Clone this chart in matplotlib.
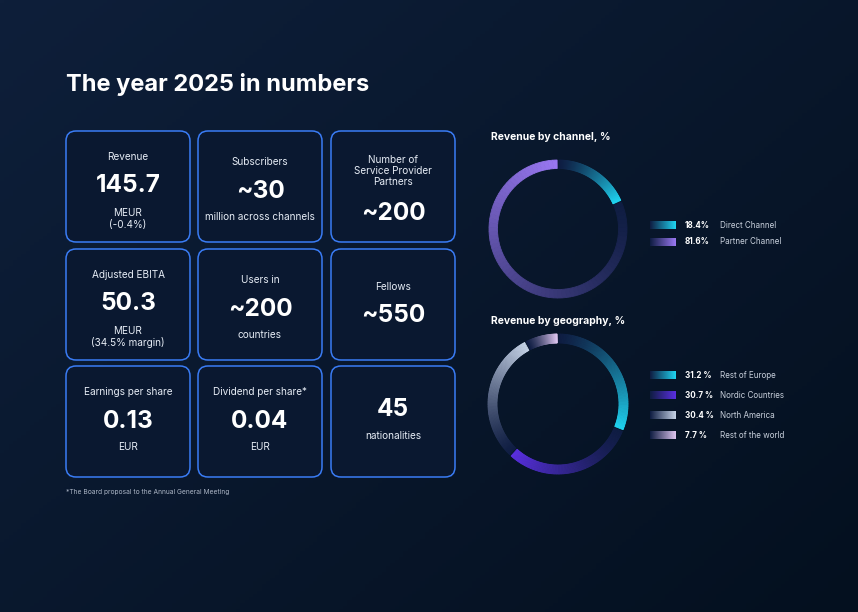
import matplotlib
matplotlib.use("Agg")
import matplotlib.pyplot as plt
import numpy as np
from matplotlib.patches import FancyBboxPatch, Polygon
from matplotlib.colors import to_rgb

plt.rcParams['font.family'] = ['Inter', 'DejaVu Sans']

title = "The year 2025 in numbers"
footnote = "*The Board proposal to the Annual General Meeting"

# KPI tiles: (header, big number, footer), row by row
kpi_headers = ["Revenue", "Subscribers", "Number of\nService Provider\nPartners",
               "Adjusted EBITA", "Users in", "Fellows",
               "Earnings per share", "Dividend per share*", ""]
kpi_values = ["145.7", "~30", "~200", "50.3", "~200", "~550", "0.13", "0.04", "45"]
kpi_footers = ["MEUR\n(-0.4%)", "million across channels", "",
               "MEUR\n(34.5% margin)", "countries", "",
               "EUR", "EUR", "nationalities"]

channel_labels = ["Direct Channel", "Partner Channel"]
channel_values = [18.4, 81.6]
channel_colors = ["#1fd3f0", "#9a78f2"]

geo_labels = ["Rest of Europe", "Nordic Countries", "North America", "Rest of the world"]
geo_values = [31.2, 30.7, 30.4, 7.7]
geo_colors = ["#1fd3f0", "#5a2fe0", "#c5d2e6", "#dcc4ee"]

W, H = 858, 612
fig = plt.figure(figsize=(W / 100, H / 100), dpi=100)
ax = fig.add_axes([0, 0, 1, 1])
ax.set_xlim(0, W)
ax.set_ylim(H, 0)
ax.axis("off")

# background gradient
gx = np.linspace(0, 1, 200)
gy = np.linspace(0, 1, 200)
GX, GY = np.meshgrid(gx, gy)
t = np.clip(0.55 * GX + 0.45 * GY, 0, 1)
c0 = np.array(to_rgb("#0e1f3a"))
c1 = np.array(to_rgb("#04101f"))
bg = c0[None, None, :] * (1 - t[..., None]) + c1[None, None, :] * t[..., None]
ax.imshow(bg, extent=[0, W, H, 0], aspect="auto", zorder=0)

ax.text(66, 84, title, color="white", fontsize=17, fontweight="bold", va="center")

BIG = 17.5
SMALL = 7.2
# tiles
col_x = [66, 198, 331]
row_y = [131, 249, 366]
tw, th = 124, 111
for i in range(9):
    x = col_x[i % 3]
    y = row_y[i // 3]
    box = FancyBboxPatch((x, y), tw, th, boxstyle="round,pad=0,rounding_size=10",
                         facecolor="#0a1830", edgecolor="#3a7cf5", linewidth=1.1, zorder=2)
    ax.add_patch(box)
    cx = x + tw / 2
    hdr, val, ftr = kpi_headers[i], kpi_values[i], kpi_footers[i]
    if i == 2:
        ax.text(cx, y + 40, hdr, color="#e6ecf5", fontsize=SMALL, ha="center", va="center", linespacing=1.1, zorder=3)
        ax.text(cx, y + 83, val, color="white", fontsize=BIG, fontweight="bold", ha="center", va="center", zorder=3)
    elif i == 5:
        ax.text(cx, y + 38, hdr, color="#e6ecf5", fontsize=SMALL, ha="center", va="center", zorder=3)
        ax.text(cx, y + 67, val, color="white", fontsize=BIG, fontweight="bold", ha="center", va="center", zorder=3)
    elif i == 8:
        ax.text(cx, y + 44, val, color="white", fontsize=BIG, fontweight="bold", ha="center", va="center", zorder=3)
        ax.text(cx, y + 70, ftr, color="#e6ecf5", fontsize=SMALL, ha="center", va="center", zorder=3)
    elif i in (1, 4):
        ax.text(cx, y + 31, hdr, color="#e6ecf5", fontsize=SMALL, ha="center", va="center", zorder=3)
        ax.text(cx, y + 60, val, color="white", fontsize=BIG, fontweight="bold", ha="center", va="center", zorder=3)
        ax.text(cx, y + 86, ftr, color="#e6ecf5", fontsize=SMALL, ha="center", va="center", zorder=3)
    elif i in (6, 7):
        ax.text(cx, y + 26, hdr, color="#e6ecf5", fontsize=SMALL, ha="center", va="center", zorder=3)
        ax.text(cx, y + 55, val, color="white", fontsize=BIG, fontweight="bold", ha="center", va="center", zorder=3)
        ax.text(cx, y + 81, ftr, color="#e6ecf5", fontsize=SMALL, ha="center", va="center", zorder=3)
    else:
        ax.text(cx, y + 26, hdr, color="#e6ecf5", fontsize=SMALL, ha="center", va="center", zorder=3)
        ax.text(cx, y + 55, val, color="white", fontsize=BIG, fontweight="bold", ha="center", va="center", zorder=3)
        ax.text(cx, y + 88, ftr, color="#e6ecf5", fontsize=SMALL, ha="center", va="center", linespacing=1.2, zorder=3)

ax.text(66, 492, footnote, color="#aab4c4", fontsize=4.8, va="center")

dark = np.array(to_rgb("#0f1d42"))


def donut(cx, cy, r, width, values, colors, gap=1.5, n=80):
    start = 0.0
    for v, col in zip(values, colors):
        span = 360 * v / 100
        a0 = start + gap / 2
        a1 = start + span - gap / 2
        edges = np.linspace(a0, a1, n + 1)
        end = np.array(to_rgb(col))
        for k in range(n):
            f = (k + 0.5) / n
            c = dark * (1 - f ** 1.3) + end * f ** 1.3
            angs = np.radians(np.linspace(edges[k], edges[k + 1], 4))
            outer = [(cx + r * np.sin(a), cy - r * np.cos(a)) for a in angs]
            inner = [(cx + (r - width) * np.sin(a), cy - (r - width) * np.cos(a)) for a in angs[::-1]]
            ax.add_patch(Polygon(outer + inner, closed=True, facecolor=c, edgecolor=c,
                                 linewidth=0.6, zorder=3))
        start += span


def legend(x, y0, dy, values, labels, colors, suffix):
    for j, (v, lab, col) in enumerate(zip(values, labels, colors)):
        y = y0 + j * dy
        end = np.array(to_rgb(col))
        grad = np.linspace(0, 1, 50)
        img = dark[None, None, :] * (1 - grad[None, :, None]) + end[None, None, :] * grad[None, :, None]
        ax.imshow(img, extent=[650, 676, y + 4, y - 4], aspect="auto", zorder=3)
        ax.text(685, y, f"{v}{suffix}", color="white", fontsize=5.8, fontweight="bold", va="center")
        ax.text(720, y, lab, color="#c8d0dc", fontsize=5.8, va="center")


ax.text(491, 137, "Revenue by channel, %", color="white", fontsize=7.5, fontweight="bold", va="center")
donut(558, 229, 69, 8.5, channel_values, channel_colors)
legend(650, 225, 17, channel_values, channel_labels, channel_colors, "%")

ax.text(491, 321, "Revenue by geography, %", color="white", fontsize=7.5, fontweight="bold", va="center")
donut(558, 404, 70, 9, geo_values, geo_colors)
legend(650, 375, 20, geo_values, geo_labels, geo_colors, " %")

ax.set_xlim(0, W)
ax.set_ylim(H, 0)
fig.savefig("out.png", dpi=100, facecolor="#0a1930")
